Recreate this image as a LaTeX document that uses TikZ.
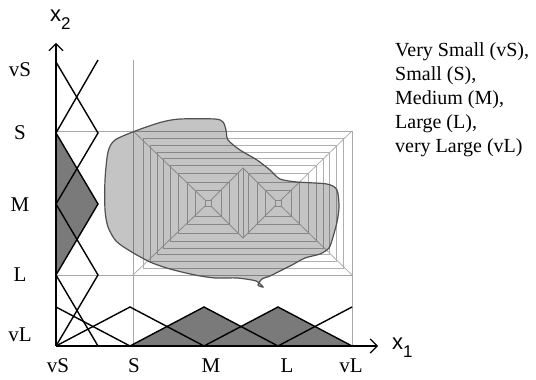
\documentclass[tikz,border=0pt]{standalone}
\usepackage{fontspec}
\setmainfont{Liberation Serif}
\newfontfamily\axisfont{Liberation Sans}
\usetikzlibrary{arrows.meta}
\definecolor{mfdark}{HTML}{7A7A7A}
\definecolor{gridgray}{HTML}{A8A8A8}
\definecolor{contourgray}{HTML}{B0B0B0}
\definecolor{blobedge}{HTML}{505050}

\begin{document}
\begin{tikzpicture}[
  x=1pt, y=1pt,
  axis/.style={line width=1.6pt, black, -{Straight Barb[length=7pt, width=14pt, line width=1.2pt]}},
  mfline/.style={line width=1.4pt, black},
  mffill/.style={fill=mfdark},
  gridline/.style={gridgray, line width=0.9pt},
  contour/.style={contourgray, line width=0.8pt},
  blob/.style={fill=black, fill opacity=0.23, draw=blobedge, line width=1.2pt},
  ticklabel/.style={font=\fontsize{21}{24}\selectfont, inner sep=0pt},
  axislabel/.style={font=\axisfont\fontsize{22}{24}\selectfont, inner sep=0pt, anchor=base west},
  legend/.style={font=\fontsize{20}{24}\selectfont, inner sep=0pt, align=left, anchor=north west},
]
\useasboundingbox (-56,-34) rectangle (480,346);

% grid
\draw[gridline] (77,0) -- (77,286);
\draw[gridline] (0,215) -- (296,215) -- (296,0);
\draw[gridline] (0,71) -- (296,71);

% contour lines of the two peaks
\foreach \d in {3,13,21,30} {
  \draw[contour] (152-\d,143-\d) rectangle (152+\d,143+\d);
  \draw[contour] (222-\d,143-\d) rectangle (222+\d,143+\d);
}
\foreach \d in {38,45,51,58,65}
  \draw[contour] (152-\d,143-\d) rectangle (222+\d,143+\d);
\draw[contour] (149,146) -- (77,215);
\draw[contour] (149,140) -- (77,71);
\draw[contour] (225,146) -- (296,215);
\draw[contour] (225,140) -- (296,71);
\draw[contour] (155,146) -- (187,178) -- (219,146);
\draw[contour] (155,140) -- (187,108) -- (219,140);
\draw[contour] (187,108) -- (187,178);

% data region
\draw[blob] plot[smooth cycle, tension=0.45] coordinates {
  (59,206) (82,216) (106,224) (124,227) (159,227) (167,224) (170,216)
  (172,206) (184,196) (201,186) (214,176) (224,167) (241,164) (271,162)
  (281,156) (283,139) (281,124) (277,109) (273,98) (264,92) (249,88)
  (236,81) (224,75) (214,70) (206,67) (202,61) (207,59) (200,65)
  (181,68) (159,68) (139,71) (114,77) (94,84) (74,95) (60,105)
  (52,119) (49,136) (49,166) (52,194)};

% membership functions on x1
\fill[mffill] (74,0) -- (148,39) -- (222,0) -- cycle;
\fill[mffill] (148,0) -- (222,39) -- (296,0) -- cycle;
\draw[mfline] (0,39) -- (74,0);
\draw[mfline] (0,0) -- (74,39) -- (148,0);
\draw[mfline] (74,0) -- (148,39) -- (222,0);
\draw[mfline] (148,0) -- (222,39) -- (296,0);
\draw[mfline] (222,0) -- (296,39);

% membership functions on x2
\fill[mffill] (0,71) -- (42,142) -- (0,213) -- cycle;
\draw[mfline] (0,71) -- (42,0);
\draw[mfline] (0,0) -- (42,71) -- (0,142);
\draw[mfline] (0,71) -- (42,142) -- (0,213);
\draw[mfline] (0,142) -- (42,213) -- (0,284);
\draw[mfline] (0,213) -- (42,286);

% axes
\draw[axis] (0,0) -- (322,0);
\draw[axis] (0,0) -- (0,303);
\node[axislabel] (xone) at (336,-4) {x\raisebox{-8pt}{\fontsize{17}{17}\selectfont 1}};
\node[axislabel] (xtwo) at (-6,324) {x\raisebox{-8pt}{\fontsize{17}{17}\selectfont 2}};

% tick labels
\node[ticklabel] (xvS) at (2,-20) {vS};
\node[ticklabel] (xS) at (78,-20) {S};
\node[ticklabel] (xM) at (155,-20) {M};
\node[ticklabel] (xL) at (231,-20) {L};
\node[ticklabel] (xvL) at (295,-20) {vL};
\node[ticklabel] (yvS) at (-36,276) {vS};
\node[ticklabel] (yS) at (-36,213) {S};
\node[ticklabel] (yM) at (-36,141) {M};
\node[ticklabel] (yL) at (-36,71) {L};
\node[ticklabel] (yvL) at (-36,11) {vL};

\node[legend] (names) at (339,304) {Very Small (vS),\\Small (S),\\Medium (M),\\Large (L),\\very Large (vL)};

\end{tikzpicture}
\end{document}
